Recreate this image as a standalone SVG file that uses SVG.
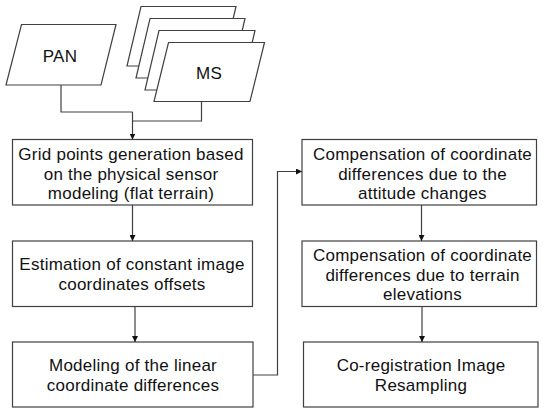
<svg xmlns="http://www.w3.org/2000/svg" width="550" height="415" viewBox="0 0 550 415">
<style>
.shape{fill:#ffffff;stroke:#404040;stroke-width:1.2}
.line{fill:none;stroke:#404040;stroke-width:1.2}
text{font-family:"Liberation Sans",Arial,sans-serif;font-size:17px;letter-spacing:0.25px;fill:#111111;text-anchor:middle}
</style>
<defs>
<marker id="arr" viewBox="0 0 10 10" refX="10" refY="5" markerWidth="6" markerHeight="6" markerUnits="userSpaceOnUse" orient="auto">
<path d="M0,0 L10,5 L0,10 z" fill="#111111"/>
</marker>
</defs>
<rect width="550" height="415" fill="#ffffff"/>
<g id="pan">
<polygon class="shape" points="21.5,24.5 116,24.5 101,85 6,85"/>
<text x="60" y="62">PAN</text>
</g>
<g id="ms">
<polygon class="shape" points="141,6.5 236,6.5 222,66 127,66"/>
<polygon class="shape" points="150,18.5 245,18.5 231,78 136,78"/>
<polygon class="shape" points="159,30.5 255,30.5 241,90 145,90"/>
<polygon class="shape" points="168.5,42.5 264.5,42.5 250,101.5 154,101.5"/>
<text x="209" y="79">MS</text>
</g>
<g id="box1">
<rect class="shape" x="12.5" y="139.5" width="240" height="65.5"/>
<text x="131" y="159.5">Grid points generation based</text>
<text x="131" y="179.5">on the physical sensor</text>
<text x="131" y="199">modeling (flat terrain)</text>
</g>
<g id="box2">
<rect class="shape" x="12.5" y="241" width="240" height="65.5"/>
<text x="132" y="269.5">Estimation of constant image</text>
<text x="132" y="289.5">coordinates offsets</text>
</g>
<g id="box3">
<rect class="shape" x="12.5" y="342" width="240.5" height="65"/>
<text x="133" y="371">Modeling of the linear</text>
<text x="133" y="390.5">coordinate differences</text>
</g>
<g id="box4">
<rect class="shape" x="302" y="139.5" width="234.5" height="65.5"/>
<text x="422.5" y="159.5">Compensation of coordinate</text>
<text x="422.5" y="179.5">differences due to the</text>
<text x="422.5" y="199">attitude changes</text>
</g>
<g id="box5">
<rect class="shape" x="302" y="241" width="234.5" height="65.5"/>
<text x="422.5" y="260.5">Compensation of coordinate</text>
<text x="422.5" y="280.5">differences due to terrain</text>
<text x="422.5" y="300">elevations</text>
</g>
<g id="box6">
<rect class="shape" x="303.5" y="342" width="234.5" height="65"/>
<text x="421" y="371">Co-registration Image</text>
<text x="421" y="390.5">Resampling</text>
</g>
<g id="connectors">
<polyline class="line" points="61,85 61,112 132.5,112"/>
<polyline class="line" points="201.5,101.5 201.5,121 132.5,121"/>
<line class="line" x1="132.5" y1="112" x2="132.5" y2="139.5" marker-end="url(#arr)"/>
<line class="line" x1="132.5" y1="205" x2="132.5" y2="241" marker-end="url(#arr)"/>
<line class="line" x1="135" y1="306.5" x2="135" y2="342" marker-end="url(#arr)"/>
<polyline class="line" points="253,375 277.5,375 277.5,171.5 302,171.5" marker-end="url(#arr)"/>
<line class="line" x1="421.5" y1="205" x2="421.5" y2="241" marker-end="url(#arr)"/>
<line class="line" x1="422" y1="306.5" x2="422" y2="342" marker-end="url(#arr)"/>
</g>
</svg>
